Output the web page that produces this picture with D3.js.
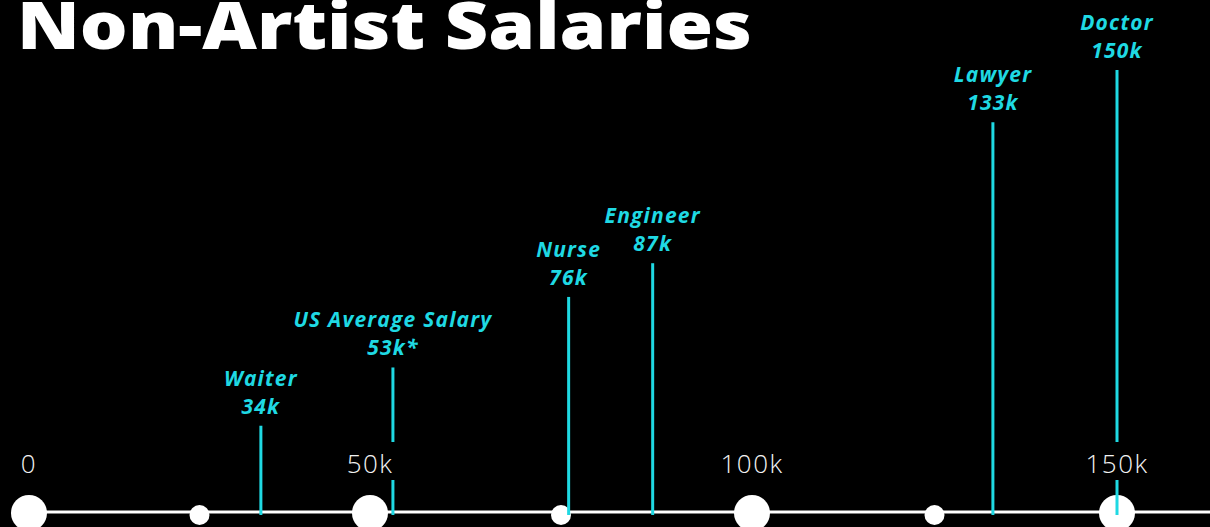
<!DOCTYPE html>
<html>
<head>
<meta charset="utf-8">
<script src="https://cdn.jsdelivr.net/npm/d3@7"></script>
<style>
    html, body { margin: 0; padding: 0; background: #000; }
    svg { display: block; }
</style>
</head>
<body>
<svg id="chart"></svg>
<script>
// Salaries shown on the timeline
const jobNames = ['Waiter', 'US Average Salary', 'Nurse', 'Engineer', 'Lawyer', 'Doctor'];
const jobSalaries = [34000, 53000, 76000, 87000, 133000, 150000];
const jobSalaryLabels = ['34k', '53k*', '76k', '87k', '133k', '150k'];

// Axis ticks
const majorTicks = [0, 50000, 100000, 150000];
const majorTickLabels = ['0', '50k', '100k', '150k'];
const minorTicks = [25000, 75000, 125000];

const titleText = 'Non-Artist Salaries';

const width = 1210;
const height = 527;
const axisY = 512;
const cyan = '#1fd9e3';

const svg = d3.select('#chart')
    .attr('width', width)
    .attr('height', height);

// x follows the hand-spaced major ticks of the original drawing
let xScale = d3.scaleLinear()
    .domain(majorTicks)
    .range([29, 370, 752, 1117]);

// stem height grows with salary
let yScale = d3.scaleLinear()
    .domain([0, 150000])
    .range([530, 70]);

// Title
svg.append('text')
    .attr('x', 17)
    .attr('y', 49)
    .attr('fill', '#fff')
    .attr('font-family', "'Open Sans', 'Noto Sans', sans-serif")
    .attr('font-weight', 800)
    .attr('font-size', 66)
    .attr('textLength', 735)
    .attr('lengthAdjust', 'spacingAndGlyphs')
    .text(titleText);

// Axis line
svg.append('line')
    .attr('x1', xScale(0))
    .attr('x2', width)
    .attr('y1', axisY)
    .attr('y2', axisY)
    .attr('stroke', '#fff')
    .attr('stroke-width', 3);

svg.append('g')
    .selectAll('circle')
    .data(minorTicks)
    .join('circle')
    .attr('cx', d => xScale(d))
    .attr('cy', axisY + 3)
    .attr('r', 10)
    .attr('fill', '#fff');

svg.append('g')
    .selectAll('circle')
    .data(majorTicks)
    .join('circle')
    .attr('cx', d => xScale(d))
    .attr('cy', axisY + 1)
    .attr('r', 18)
    .attr('fill', '#fff');

// Stems
let jobData = jobNames.map((name, i) => ({
    name: name,
    value: jobSalaries[i],
    label: jobSalaryLabels[i]
}));

svg.append('g')
    .selectAll('line')
    .data(jobData)
    .join('line')
    .attr('x1', d => xScale(d.value))
    .attr('x2', d => xScale(d.value))
    .attr('y1', d => yScale(d.value))
    .attr('y2', axisY + 3)
    .attr('stroke', cyan)
    .attr('stroke-width', 3);

let labelGroup = svg.append('g')
    .attr('font-family', "'Open Sans', 'Noto Sans', sans-serif")
    .attr('font-weight', 700)
    .attr('font-style', 'italic')
    .attr('font-size', 21)
    .attr('letter-spacing', 1.2)
    .attr('fill', cyan)
    .attr('text-anchor', 'middle');

labelGroup.selectAll('text.name')
    .data(jobData)
    .join('text')
    .attr('class', 'name')
    .attr('x', d => xScale(d.value))
    .attr('y', d => yScale(d.value) - 40)
    .text(d => d.name);

labelGroup.selectAll('text.amount')
    .data(jobData)
    .join('text')
    .attr('class', 'amount')
    .attr('x', d => xScale(d.value))
    .attr('y', d => yScale(d.value) - 12)
    .text(d => d.label);

// Tick labels, with a black patch so stems break behind them
let tickGroup = svg.append('g')
    .selectAll('g')
    .data(majorTicks)
    .join('g')
    .attr('transform', d => `translate(${xScale(d)},473)`);

tickGroup.append('text')
    .attr('text-anchor', 'middle')
    .attr('font-family', "'Open Sans', 'Noto Sans', sans-serif")
    .attr('font-weight', 300)
    .attr('font-size', 26)
    .attr('letter-spacing', 1.5)
    .attr('fill', '#f2f2f2')
    .text((d, i) => majorTickLabels[i]);

tickGroup.each(function() {
    let g = d3.select(this);
    let box = g.select('text').node().getBBox();
    g.insert('rect', 'text')
        .attr('x', box.x - 2)
        .attr('y', -31)
        .attr('width', box.width + 4)
        .attr('height', 38)
        .attr('fill', '#000');
});
</script>
</body>
</html>
